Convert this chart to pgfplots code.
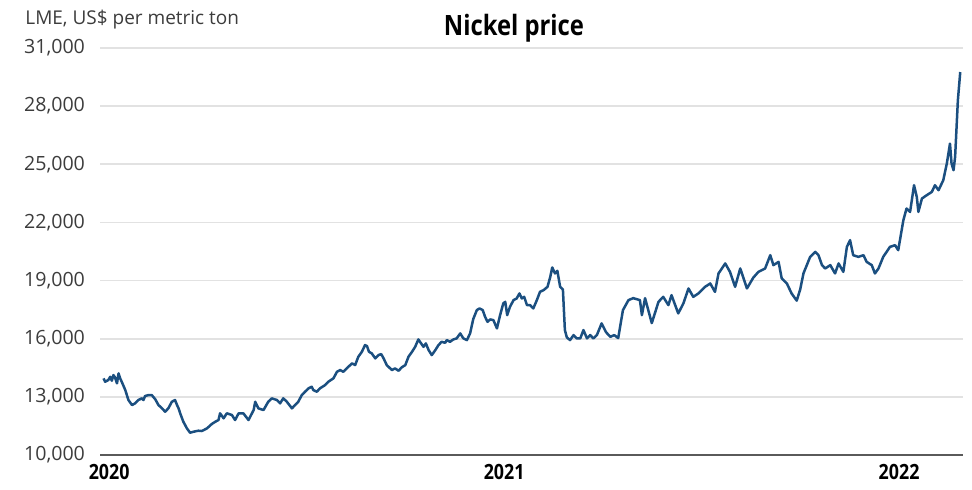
\documentclass[border=0pt]{standalone}
\usepackage{pgfplots}
\usepackage{pgfplotstable}
\pgfplotsset{compat=1.18}
\usepackage{fontspec}
\setmainfont{Open Sans}
\newfontfamily\condbold{Open Sans}[FakeStretch=0.85]
\definecolor{nickelblue}{RGB}{27,79,128}
\definecolor{gridgray}{RGB}{226,226,226}
\definecolor{axisgray}{RGB}{90,90,90}
\definecolor{textgray}{RGB}{60,60,60}

\pgfplotstableread{
x y
2020.001 13954
2020.005 13779
2020.013 13866
2020.018 14036
2020.022 13830
2020.026 14124
2020.030 14005
2020.035 13696
2020.039 14212
2020.043 13954
2020.047 13779
2020.056 13351
2020.064 12835
2020.073 12578
2020.081 12665
2020.089 12835
2020.098 12923
2020.102 12835
2020.106 13041
2020.115 13093
2020.123 13093
2020.132 12871
2020.140 12578
2020.149 12407
2020.157 12232
2020.165 12407
2020.174 12748
2020.182 12835
2020.187 12578
2020.191 12407
2020.195 12150
2020.203 11717
2020.212 11376
2020.220 11150
2020.229 11201
2020.241 11253
2020.250 11237
2020.263 11376
2020.275 11598
2020.284 11717
2020.292 11804
2020.296 12150
2020.305 11892
2020.313 12150
2020.326 12062
2020.334 11804
2020.343 12150
2020.355 12150
2020.368 11804
2020.381 12320
2020.385 12748
2020.393 12407
2020.406 12320
2020.418 12748
2020.427 12923
2020.440 12835
2020.448 12665
2020.456 12923
2020.465 12748
2020.478 12407
2020.486 12578
2020.494 12748
2020.503 13093
2020.511 13263
2020.520 13438
2020.528 13521
2020.532 13351
2020.541 13263
2020.549 13438
2020.562 13609
2020.570 13779
2020.583 13954
2020.592 14294
2020.600 14382
2020.608 14294
2020.621 14552
2020.630 14727
2020.638 14640
2020.646 15067
2020.655 15325
2020.663 15671
2020.668 15619
2020.673 15325
2020.680 15243
2020.689 14985
2020.697 15155
2020.704 15207
2020.710 14985
2020.718 14640
2020.731 14382
2020.739 14469
2020.748 14346
2020.756 14521
2020.765 14640
2020.773 15067
2020.782 15325
2020.790 15583
2020.798 15964
2020.805 15758
2020.811 15583
2020.817 15758
2020.824 15413
2020.832 15155
2020.841 15413
2020.849 15671
2020.857 15841
2020.866 15789
2020.870 15928
2020.878 15841
2020.887 15964
2020.895 16016
2020.904 16274
2020.912 16016
2020.921 15928
2020.929 16274
2020.937 17011
2020.946 17475
2020.953 17562
2020.961 17475
2020.967 17129
2020.973 16872
2020.980 16995
2020.988 16959
2020.997 16531
2021.005 17217
2021.013 17820
2021.018 17903
2021.023 17217
2021.030 17645
2021.039 17990
2021.047 18078
2021.054 18336
2021.060 18078
2021.066 18160
2021.073 17733
2021.081 17733
2021.089 17562
2021.098 17990
2021.106 18418
2021.115 18506
2021.125 18676
2021.132 19191
2021.137 19676
2021.144 19367
2021.150 19501
2021.157 18676
2021.164 18542
2021.169 16444
2021.174 16067
2021.182 15928
2021.191 16186
2021.199 16016
2021.208 16016
2021.216 16444
2021.225 16016
2021.233 16186
2021.241 16016
2021.250 16186
2021.262 16789
2021.273 16341
2021.284 16098
2021.294 16186
2021.304 16031
2021.316 17475
2021.330 17990
2021.342 18093
2021.359 17990
2021.364 17217
2021.372 18093
2021.389 16805
2021.406 17903
2021.418 18160
2021.431 17733
2021.439 18248
2021.456 17305
2021.469 17820
2021.482 18593
2021.494 18160
2021.507 18336
2021.524 18676
2021.537 18851
2021.549 18418
2021.558 19367
2021.575 19882
2021.587 19449
2021.600 18676
2021.613 19624
2021.630 18593
2021.646 19150
2021.659 19449
2021.676 19624
2021.689 20310
2021.697 19795
2021.710 19965
2021.718 19109
2021.731 18851
2021.743 18336
2021.756 17965
2021.765 18557
2021.773 19367
2021.790 20222
2021.803 20480
2021.811 20310
2021.820 19795
2021.828 19624
2021.841 19795
2021.853 19367
2021.862 19882
2021.874 19449
2021.883 20738
2021.891 21083
2021.899 20310
2021.912 20222
2021.925 20310
2021.933 19965
2021.946 19795
2021.954 19367
2021.963 19624
2021.975 20222
2021.992 20738
2022.005 20826
2022.013 20568
2022.026 22114
2022.034 22717
2022.043 22542
2022.053 23919
2022.060 23315
2022.064 22542
2022.073 23233
2022.085 23403
2022.098 23573
2022.106 23919
2022.115 23661
2022.127 24176
2022.136 25037
2022.144 26068
2022.148 25037
2022.153 24692
2022.157 25377
2022.164 28300
2022.170 29759
}\nickel

\begin{document}
\begin{tikzpicture}[x=1pt,y=1pt]
\path (-50,-17.5) rectangle (436,227.5);
\begin{axis}[
  at={(0,0)}, anchor=south west,
  scale only axis,
  width=431.5pt, height=203.5pt,
  xmin=2019.992, xmax=2022.177,
  ymin=10000, ymax=31000,
  ymajorgrids=true,
  xmajorgrids=false,
  major grid style={draw=gridgray, line width=0.9pt},
  axis x line*=bottom,
  axis y line*=left,
  y axis line style={draw=none},
  x axis line style={draw=axisgray, line width=1pt},
  major tick length=0pt,
  scaled ticks=false,
  xtick={2020,2021,2022},
  xticklabels={2020,2021,2022},
  xticklabel style={font=\condbold\bfseries\fontsize{10.5}{12}\selectfont, text=black, xshift=3pt, yshift=-1pt},
  ytick={10000,13000,16000,19000,22000,25000,28000,31000},
  yticklabel style={font=\fontsize{9.8}{12}\selectfont, text=textgray, xshift=-4pt,
    /pgf/number format/fixed, /pgf/number format/1000 sep={,}, /pgf/number format/assume math mode=true},
  clip=false,
]
\addplot[color=nickelblue, line width=1.25pt, line join=round, mark=none] table[x=x,y=y] {\nickel};
\end{axis}
\node[anchor=base west, text=textgray, font=\fontsize{9.5}{11}\selectfont, inner sep=0pt] at (-37.5,215) {LME, US\$ per metric ton};
\node[anchor=base, text=black, font=\condbold\bfseries\fontsize{14}{16}\selectfont, inner sep=0pt] at (207,209.5) {Nickel price};
\end{tikzpicture}
\end{document}
